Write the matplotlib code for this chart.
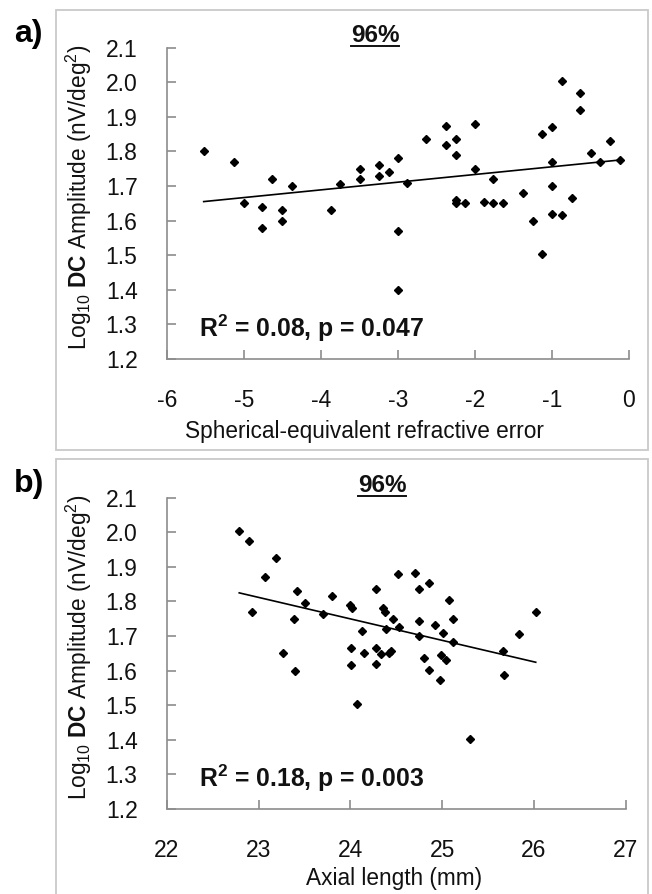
import numpy as np
import matplotlib
matplotlib.use("Agg")
import matplotlib.pyplot as plt
from matplotlib.patches import Rectangle
from matplotlib.lines import Line2D

plt.rcParams['font.family'] = ['Liberation Sans', 'DejaVu Sans']
plt.rcParams['mathtext.fontset'] = 'custom'
plt.rcParams['mathtext.rm'] = 'Liberation Sans'
plt.rcParams['mathtext.it'] = 'Liberation Sans:italic'
plt.rcParams['mathtext.bf'] = 'Liberation Sans:bold'

# ---------------- data ----------------
ser_a = [-5.52, -5.13, -5.0, -4.76, -4.76, -4.63, -4.50, -4.50, -4.38, -3.87,
         -3.75, -3.49, -3.49, -3.25, -3.25, -3.12, -3.0, -3.0, -3.0, -2.88,
         -2.63, -2.38, -2.38, -2.25, -2.25, -2.25, -2.25, -2.13, -2.0, -2.0,
         -1.88, -1.76, -1.76, -1.63, -1.38, -1.25, -1.13, -1.13, -1.0, -1.0,
         -1.0, -1.0, -0.87, -0.87, -0.74, -0.63, -0.63, -0.49, -0.37, -0.25,
         -0.12]
amp_a = [1.80, 1.77, 1.65, 1.64, 1.58, 1.72, 1.63, 1.60, 1.70, 1.63,
         1.705, 1.75, 1.72, 1.76, 1.73, 1.74, 1.78, 1.57, 1.40, 1.71,
         1.835, 1.875, 1.82, 1.835, 1.79, 1.66, 1.65, 1.65, 1.88, 1.75,
         1.655, 1.72, 1.65, 1.65, 1.68, 1.60, 1.85, 1.505, 1.87, 1.77,
         1.70, 1.62, 2.005, 1.615, 1.665, 1.97, 1.92, 1.795, 1.77, 1.83,
         1.775]

axial_b = [22.79, 22.90, 22.93, 23.07, 23.19, 23.27, 23.39, 23.40, 23.42, 23.51,
           23.70, 23.80, 24.00, 24.02, 24.01, 24.01, 24.07, 24.13, 24.15, 24.28,
           24.28, 24.28, 24.33, 24.36, 24.38, 24.39, 24.42, 24.44, 24.47, 24.52,
           24.53, 24.70, 24.75, 24.75, 24.75, 24.80, 24.86, 24.86, 24.92, 24.98,
           24.99, 25.01, 25.04, 25.08, 25.12, 25.12, 25.30, 25.66, 25.67, 25.84,
           26.02]
amp_b = [2.005, 1.975, 1.77, 1.87, 1.925, 1.65, 1.75, 1.60, 1.83, 1.795,
         1.765, 1.815, 1.79, 1.78, 1.665, 1.617, 1.505, 1.715, 1.65, 1.835,
         1.665, 1.62, 1.649, 1.78, 1.77, 1.72, 1.65, 1.658, 1.749, 1.879,
         1.727, 1.882, 1.836, 1.744, 1.699, 1.638, 1.853, 1.602, 1.732, 1.573,
         1.645, 1.708, 1.631, 1.804, 1.75, 1.684, 1.402, 1.657, 1.586, 1.707,
         1.77]

yticks = [1.2, 1.3, 1.4, 1.5, 1.6, 1.7, 1.8, 1.9, 2.0, 2.1]
xticks_a = [-6, -5, -4, -3, -2, -1, 0]
xticks_b = [22, 23, 24, 25, 26, 27]
xlabel_a = "Spherical-equivalent refractive error"
xlabel_b = "Axial length (mm)"
ylabel = r"Log$_{10}$ $\mathbf{DC}$ Amplitude (nV/deg$^2$)"
title_txt = "96%"
stat_a = r"R$^\mathbf{2}$ = 0.08, p = 0.047"
stat_b = r"R$^\mathbf{2}$ = 0.18, p = 0.003"

W, H = 652, 894
fig = plt.figure(figsize=(W / 100, H / 100), dpi=100)


def fx(px):
    return px / W


def fy(py):
    return 1 - py / H


GRAY = '#8c8c8c'
BOX = '#c9c9c9'

# panel boxes
fig.add_artist(Rectangle((fx(56), fy(450)), fx(648) - fx(56), fy(10) - fy(450),
                         transform=fig.transFigure, fill=False, ec=BOX, lw=1.3))
fig.add_artist(Rectangle((fx(56), fy(900)), fx(648) - fx(56), fy(459) - fy(900),
                         transform=fig.transFigure, fill=False, ec=BOX, lw=1.3))


def panel(top_px, right_px, x, y, xticks, xlim, stat, stat_x, xlabel, xlabel_cx,
          xlabel_base, title_cx, label):
    left_px = 166.7
    bot_px = top_px + 311.3
    ax = fig.add_axes([fx(left_px), fy(bot_px), fx(right_px) - fx(left_px),
                       fy(top_px) - fy(bot_px)])
    ax.set_xlim(*xlim)
    ax.set_ylim(1.2, 2.1)
    ax.plot(x, y, linestyle='none', marker='D', ms=4.5, color='black', mec='black')
    k, b = np.polyfit(x, y, 1)
    xs = np.array([min(x), max(x)])
    ax.plot(xs, k * xs + b, color='black', lw=1.2)
    for s in ['top', 'right']:
        ax.spines[s].set_visible(False)
    for s in ['left', 'bottom']:
        ax.spines[s].set_color(GRAY)
        ax.spines[s].set_linewidth(1.2)
    ax.set_xticks(xticks)
    ax.set_yticks(yticks)
    ax.set_xticklabels([str(t) for t in xticks])
    ax.set_yticklabels([f"{t:.1f}" for t in yticks])
    ax.tick_params(axis='both', direction='in', length=6.5, width=1.2, color=GRAY,
                   labelsize=16.5, labelcolor='#111111')
    ax.tick_params(axis='y', pad=21)
    ax.tick_params(axis='x', pad=21.5)
    ax.patch.set_alpha(0)
    ax.text(stat_x, 1.264, stat, fontsize=17.8, fontweight='bold', ha='left',
            va='baseline', color='#111111')
    # title with underline
    t = fig.text(fx(title_cx), fy(top_px - 5.5), title_txt, fontsize=17.5,
                 fontweight='bold', ha='center', va='baseline', color='#111111')
    fig.canvas.draw()
    bb = t.get_window_extent()
    fig.add_artist(Line2D([bb.x0 / W, bb.x1 / W],
                          [fy(top_px - 1.8)] * 2, transform=fig.transFigure,
                          color='#111111', lw=1.4))
    fig.text(fx(xlabel_cx), fy(xlabel_base), xlabel, fontsize=16.3, ha='center',
             va='baseline', color='#111111')
    fig.text(fx(79), fy(top_px + 150), ylabel, fontsize=16.3, rotation=90,
             ha='center', va='center', color='#111111')
    fig.text(fx(14), fy(top_px - 6), label, fontsize=23, fontweight='bold',
             ha='left', va='baseline', color='black')
    return ax


panel(47.7, 629, ser_a, amp_a, xticks_a, (-6, 0), stat_a, -5.584,
      xlabel_a, 364, 438, 375, "a)")
panel(497.7, 625.7, axial_b, amp_b, xticks_b, (22, 27), stat_b, 22.35,
      xlabel_b, 394.5, 885, 382, "b)")

fig.savefig("out.png", dpi=100)
